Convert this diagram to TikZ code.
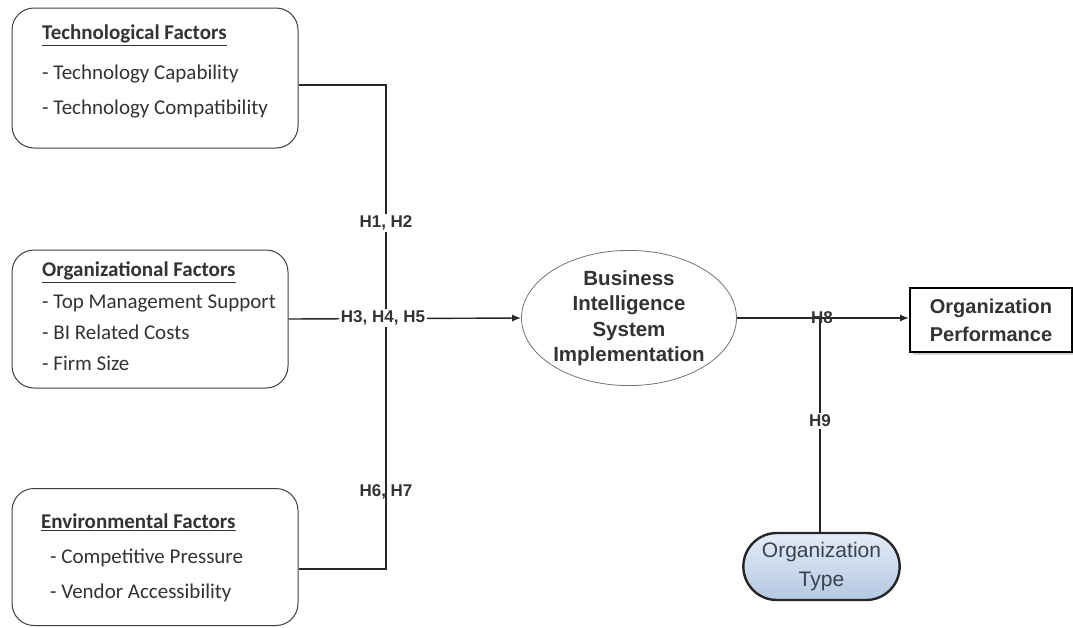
\documentclass[tikz,border=0pt]{standalone}
\usepackage{fontspec}
\setmainfont{Carlito}
\newfontfamily\arialf{Liberation Sans}
\usetikzlibrary{arrows.meta,shapes.misc,shapes.geometric,shadows}
\definecolor{txtgray}{HTML}{333333}
\definecolor{otop}{HTML}{E4ECF6}
\definecolor{obot}{HTML}{B4C8E2}
\definecolor{otxt}{HTML}{3A4250}
\tikzset{
  factorbox/.style={draw=black!75, line width=1pt, rounded corners=22pt, fill=white},
  factortxt/.style={anchor=north west, align=left, inner sep=0pt, text=txtgray},
  conn/.style={line width=1.4pt, draw=black!85},
  arr/.style={conn, -{Latex[length=9pt,width=7pt]}},
  hlab/.style={inner sep=1.5pt, text=txtgray, font=\arialf\bfseries\fontsize{17}{20}\selectfont},
  hlabw/.style={hlab, fill=white},
}
\begin{document}
\begin{tikzpicture}[x=1pt,y=-1pt]
\useasboundingbox (0,0) rectangle (1073,627);
% factor boxes
\node[factorbox, minimum width=286pt, minimum height=140pt] (techbox) at (155,78) {};
\node[factortxt, font=\fontsize{21}{35}\selectfont] (techtxt) at (42,25)
  {\underline{\textbf{Technological Factors}}\\[5pt]- Technology Capability\\- Technology Compatibility};
\node[factorbox, minimum width=276pt, minimum height=138pt] (orgbox) at (150,319) {};
\node[factortxt, font=\fontsize{21}{31}\selectfont] (orgtxt) at (42,262)
  {\underline{\textbf{Organizational Factors}}\\[1pt]- Top Management Support\\- BI Related Costs\\- Firm Size};
\node[factorbox, minimum width=286pt, minimum height=137pt] (envbox) at (155,557) {};
\node[factortxt, font=\fontsize{21}{35}\selectfont] (envtxt) at (41,514)
  {\underline{\textbf{Environmental Factors}}\\\hspace*{9pt}- Competitive Pressure\\\hspace*{9pt}- Vendor Accessibility};
% BI ellipse
\node[ellipse, draw=black!55, line width=0.8pt, fill=white, minimum width=215pt, minimum height=134pt, inner sep=0pt,
  align=center, text=txtgray, font=\arialf\bfseries\fontsize{20.5}{25.5}\selectfont] (bi) at (629,318)
  {Business\\Intelligence\\System\\Implementation};
% Organization performance
\node[draw=black, line width=2pt, fill=white, minimum width=162pt, minimum height=64pt, align=center,
  drop shadow={shadow xshift=2.5pt, shadow yshift=-2.5pt, opacity=0.35},
  text=txtgray, font=\arialf\bfseries\fontsize{20}{28}\selectfont] (perf) at (991,320)
  {Organization\\Performance};
% Organization type
\node[rounded rectangle, draw=black!85, line width=2.4pt, top color=otop, bottom color=obot,
  minimum width=163pt, minimum height=67pt, align=center, text=otxt,
  font=\arialf\fontsize{21}{29}\selectfont] (otype) at (821.5,566.5) {Organization\\Type};
% junctions
\coordinate (j) at (386,318);
\coordinate (m) at (820,318);
% connectors
\draw[conn] ([yshift=-7pt]techbox.east) -| (j);
\draw[conn] ([yshift=-12pt]envbox.east) -| (j);
\draw[arr] (orgbox.east) -- (bi.west);
\draw[arr] (bi.east) -- (perf.west |- bi.east);
\draw[conn] (otype.north -| m) -- (m);
% labels
\node[hlabw] (h12) at (386,223) {H1, H2};
\node[hlabw] (h345) at (383,318) {H3, H4, H5};
\node[hlab] (h67) at (386,492) {H6, H7};
\node[hlab, inner sep=0.5pt] (h8) at (822,318) {H8};
\node[hlabw] (h9) at (820,421) {H9};
\end{tikzpicture}
\end{document}
